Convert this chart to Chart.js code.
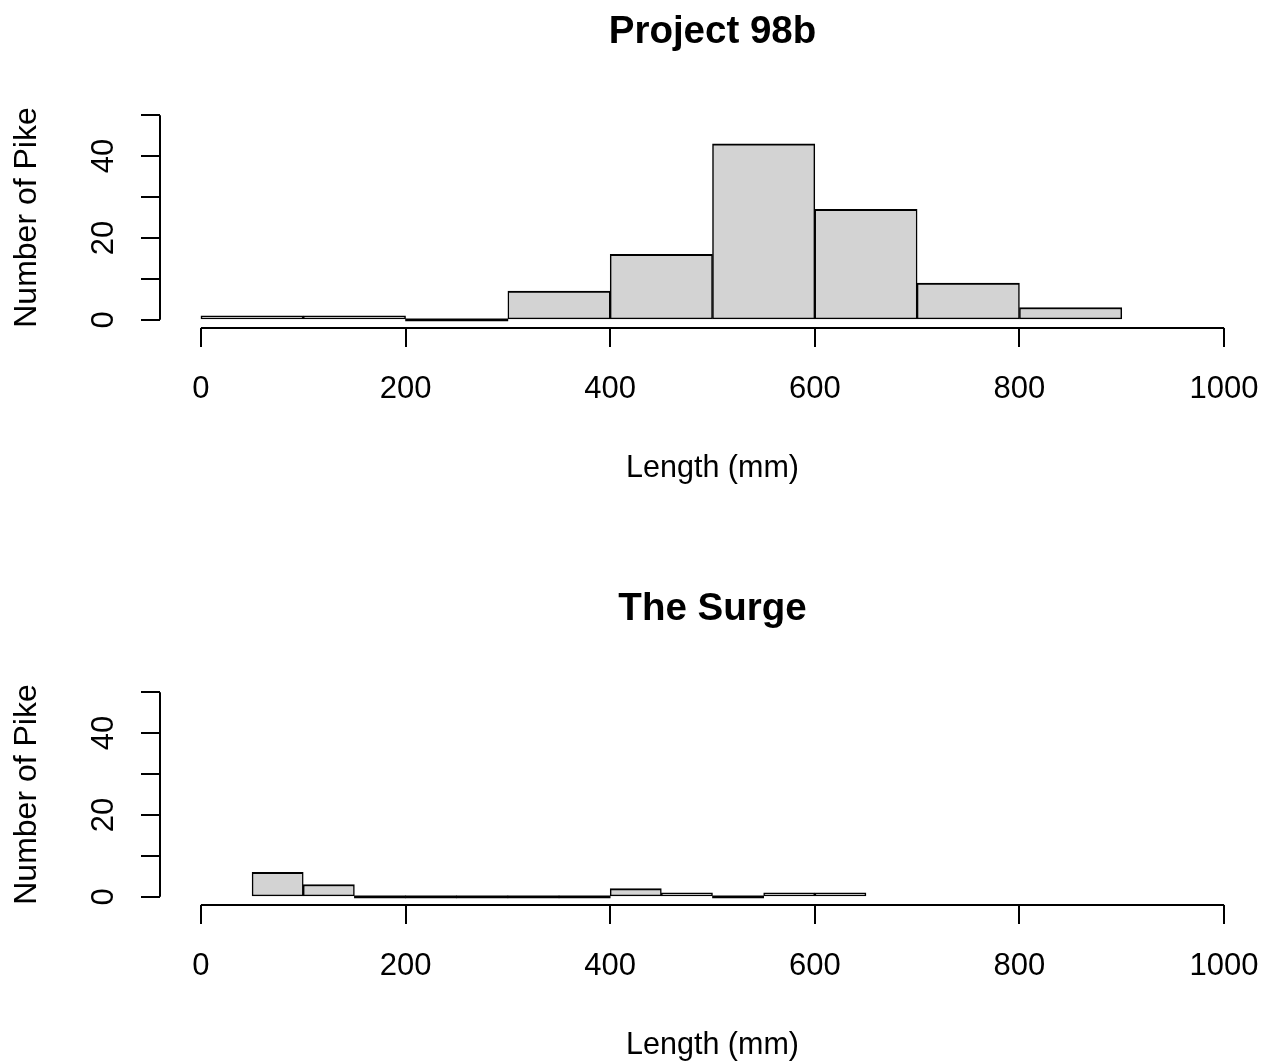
<!DOCTYPE html>
<html>
<head>
<meta charset="utf-8">
<script src="https://cdn.jsdelivr.net/npm/chart.js@4.4.1/dist/chart.umd.min.js"></script>
<style>
  html, body { margin: 0; padding: 0; background: #fff; overflow: hidden; }
  canvas { position: absolute; left: 0; }
  #c1 { top: 0; }
  #c2 { top: 577px; }
</style>
</head>
<body>
<canvas id="c1" width="1265" height="484"></canvas>
<canvas id="c2" width="1265" height="484"></canvas>
<script>
// bin midpoints (mm) and counts
const projectBins = [50, 150, 250, 350, 450, 550, 650, 750, 850];
const projectCounts = [1, 1, 0, 7, 16, 43, 27, 9, 3];
const surgeBins = [75, 125, 175, 225, 275, 325, 375, 425, 475, 525, 575, 625];
const surgeCounts = [6, 3, 0, 0, 0, 0, 0, 2, 1, 0, 1, 1];
const xTicks = [0, 200, 400, 600, 800, 1000];
const yTicks = [0, 10, 20, 30, 40, 50];
const yLabels = [0, 20, 40];

const FONT = "'Liberation Sans', Arial, sans-serif";

// R draws the axis line only from first to last tick
const axisLines = {
  id: 'axisLines',
  afterDraw(chart) {
    const { ctx, chartArea, scales: { x, y } } = chart;
    ctx.save();
    ctx.strokeStyle = '#000';
    ctx.lineWidth = 2;
    ctx.beginPath();
    ctx.moveTo(x.getPixelForValue(xTicks[0]), chartArea.bottom);
    ctx.lineTo(x.getPixelForValue(xTicks[xTicks.length - 1]), chartArea.bottom);
    ctx.moveTo(chartArea.left, y.getPixelForValue(yTicks[0]));
    ctx.lineTo(chartArea.left, y.getPixelForValue(yTicks[yTicks.length - 1]));
    ctx.stroke();
    ctx.restore();
  }
};

const isEmpty = c => c.raw && c.raw.y === 0;

function makeHist(id, title, bins, counts) {
  new Chart(document.getElementById(id), {
    type: 'bar',
    data: {
      datasets: [{
        data: bins.map((b, i) => ({ x: b, y: counts[i] })),
        // empty bins show up as a flat black line, like R does
        backgroundColor: c => isEmpty(c) ? '#000' : '#d3d3d3',
        borderColor: '#000',
        borderWidth: c => isEmpty(c)
          ? 0
          : { top: 2, left: 1.5, right: 1.5, bottom: 1.5 },
        borderSkipped: false,
        barPercentage: 1,
        categoryPercentage: 1,
        minBarLength: 2
      }]
    },
    options: {
      responsive: false,
      animation: false,
      devicePixelRatio: 1,
      layout: { padding: 0 },
      plugins: {
        legend: { display: false },
        tooltip: { enabled: false },
        title: {
          display: true,
          text: title,
          fullSize: false,
          color: '#000',
          font: { family: FONT, size: 38.5, weight: 'bold' },
          padding: { top: 9, bottom: 51.8 }
        }
      },
      scales: {
        x: {
          type: 'linear',
          min: -40,
          max: 1040,
          offset: false,
          grid: { offset: false, drawOnChartArea: false, color: '#000', lineWidth: 2, tickLength: 19 },
          border: { display: false },
          afterBuildTicks: s => { s.ticks = xTicks.map(v => ({ value: v })); },
          afterFit: s => { s.height = 156; s.paddingLeft = 0; s.paddingRight = 0; },
          ticks: {
            color: '#000',
            font: { family: FONT, size: 31 },
            padding: 24,
            maxRotation: 0,
            autoSkip: false,
            callback: v => String(v)
          },
          title: {
            display: true,
            text: 'Length (mm)',
            color: '#000',
            font: { family: FONT, size: 30.5 },
            padding: { top: 0, bottom: -3 }
          }
        },
        y: {
          min: -2,
          max: 52,
          grid: { drawOnChartArea: false, color: '#000', lineWidth: 2, tickLength: 19 },
          border: { display: false },
          afterBuildTicks: s => { s.ticks = yTicks.map(v => ({ value: v })); },
          afterFit: s => { s.width = 160; s.paddingTop = 0; s.paddingBottom = 0; },
          ticks: {
            color: '#000',
            font: { family: FONT, size: 31 },
            padding: 19,
            minRotation: 90,
            maxRotation: 90,
            crossAlign: 'center',
            autoSkip: false,
            callback: v => yLabels.includes(v) ? String(v) : ''
          },
          title: {
            display: true,
            text: 'Number of Pike',
            color: '#000',
            font: { family: FONT, size: 32 },
            padding: { top: 8, bottom: 0 }
          }
        }
      }
    },
    plugins: [axisLines]
  });
}

makeHist('c1', 'Project 98b', projectBins, projectCounts);
makeHist('c2', 'The Surge', surgeBins, surgeCounts);
</script>
</body>
</html>
